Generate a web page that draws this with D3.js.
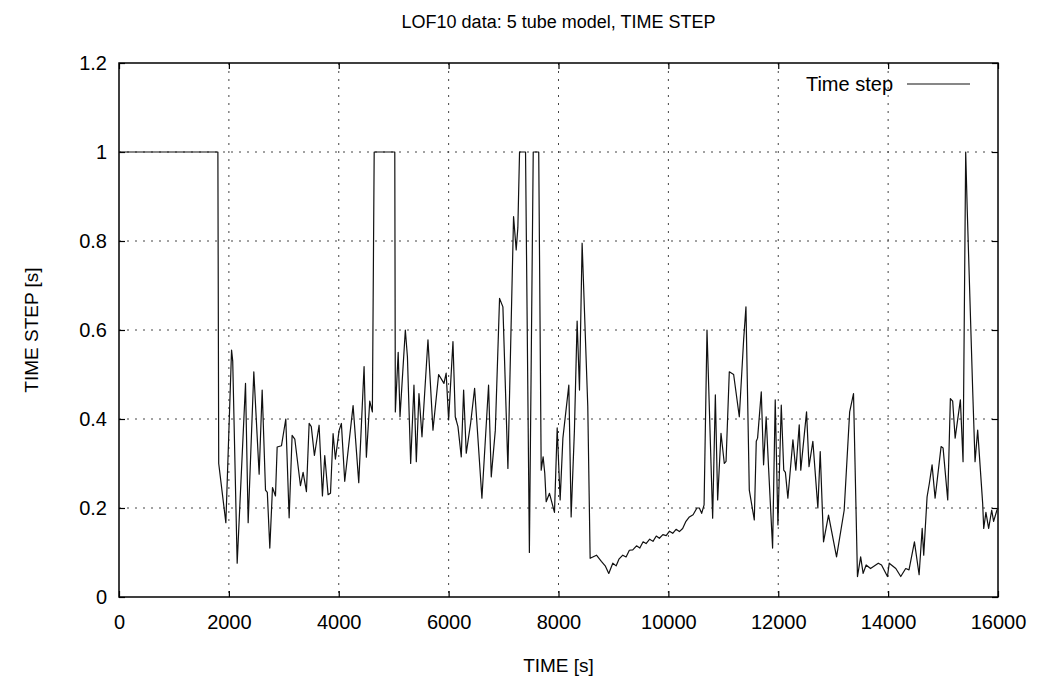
<!DOCTYPE html>
<html>
<head>
<meta charset="utf-8">
<script src="https://cdn.jsdelivr.net/npm/d3@7"></script>
<style>
  body { margin: 0; background: #fff; }
  svg { display: block; font-family: "Liberation Sans", Arial, sans-serif; }
  .axis text { font-size: 20px; fill: #000; }
  .axis line { stroke: #000; stroke-width: 1.2; }
  .axis path { display: none; }
  .grid line { stroke: #444; stroke-width: 1; stroke-dasharray: 2,6; }
</style>
</head>
<body>
<svg id="chart"></svg>
<script>
'use strict';

// time [s]
var times = [
  0, 1800, 1815, 1945, 2049, 2070, 2151, 2303, 2351, 2454, 2551, 2606, 2667, 2700,
  2745, 2794, 2848, 2879, 2958, 3036, 3097, 3151, 3200, 3303, 3351, 3412, 3461, 3500,
  3557, 3642, 3703, 3745, 3806, 3850, 3897, 3939, 4006, 4048, 4109, 4261, 4364, 4461,
  4503, 4564, 4612, 4645, 5020, 5030, 5082, 5115, 5212, 5250, 5309, 5369, 5412, 5460,
  5515, 5624, 5715, 5818, 5915, 5955, 6000, 6079, 6121, 6170, 6230, 6273, 6321, 6400,
  6473, 6606, 6727, 6776, 6850, 6927, 6988, 7079, 7182, 7230, 7260, 7291, 7400, 7470,
  7540, 7640, 7685, 7720, 7750, 7776, 7836, 7927, 7976, 8030, 8080, 8188, 8230, 8290,
  8339, 8382, 8430, 8533, 8576, 8691, 8780, 8850, 8915, 8988, 9050, 9100, 9170, 9230,
  9290, 9352, 9420, 9480, 9540, 9594, 9660, 9720, 9780, 9836, 9900, 9960, 10020, 10079,
  10140, 10200, 10260, 10320, 10382, 10450, 10520, 10564, 10606, 10650, 10703, 10806, 10855, 10897,
  10958, 11018, 11050, 11109, 11188, 11291, 11370, 11412, 11473, 11564, 11600, 11624, 11691, 11733,
  11780, 11824, 11897, 11945, 11994, 12055, 12100, 12130, 12175, 12267, 12320, 12382, 12410, 12515,
  12560, 12630, 12721, 12764, 12824, 12915, 13061, 13200, 13300, 13370, 13442, 13500, 13545, 13600,
  13680, 13821, 13880, 13988, 14020, 14140, 14230, 14320, 14380, 14479, 14564, 14620, 14648, 14709,
  14750, 14800, 14855, 14964, 15000, 15085, 15133, 15175, 15220, 15315, 15364, 15412, 15440, 15539,
  15582, 15630, 15721, 15740, 15780, 15830, 15885, 15920, 15980, 16000
];

// time step [s]
var timeSteps = [
  1.0, 1.0, 0.30, 0.167, 0.555, 0.53, 0.076, 0.48, 0.167, 0.506, 0.276, 0.465, 0.24, 0.235,
  0.11, 0.246, 0.227, 0.337, 0.34, 0.40, 0.178, 0.363, 0.355, 0.25, 0.28, 0.237, 0.39, 0.383,
  0.318, 0.386, 0.227, 0.318, 0.23, 0.233, 0.367, 0.31, 0.374, 0.39, 0.26, 0.43, 0.257, 0.518,
  0.314, 0.44, 0.416, 1.0, 1.0, 0.416, 0.55, 0.405, 0.60, 0.54, 0.30, 0.476, 0.304, 0.457,
  0.36, 0.578, 0.375, 0.50, 0.48, 0.503, 0.398, 0.574, 0.405, 0.383, 0.315, 0.465, 0.323, 0.39,
  0.469, 0.222, 0.476, 0.27, 0.375, 0.671, 0.652, 0.289, 0.855, 0.78, 0.83, 1.0, 1.0, 0.10,
  1.0, 1.0, 0.285, 0.315, 0.278, 0.214, 0.233, 0.19, 0.38, 0.218, 0.357, 0.476, 0.18, 0.375,
  0.62, 0.465, 0.795, 0.428, 0.087, 0.094, 0.08, 0.07, 0.053, 0.076, 0.07, 0.085, 0.094, 0.09,
  0.105, 0.106, 0.115, 0.11, 0.124, 0.12, 0.13, 0.125, 0.137, 0.132, 0.14, 0.138, 0.148, 0.143,
  0.152, 0.147, 0.154, 0.17, 0.18, 0.185, 0.2, 0.2, 0.188, 0.207, 0.60, 0.177, 0.454, 0.218,
  0.368, 0.30, 0.305, 0.506, 0.50, 0.405, 0.578, 0.652, 0.24, 0.173, 0.35, 0.357, 0.461, 0.297,
  0.405, 0.29, 0.11, 0.443, 0.162, 0.431, 0.285, 0.28, 0.222, 0.353, 0.285, 0.387, 0.285, 0.416,
  0.293, 0.35, 0.20, 0.327, 0.124, 0.184, 0.09, 0.195, 0.416, 0.457, 0.046, 0.09, 0.053, 0.072,
  0.064, 0.076, 0.072, 0.046, 0.076, 0.064, 0.046, 0.064, 0.061, 0.124, 0.05, 0.154, 0.094, 0.225,
  0.255, 0.297, 0.222, 0.338, 0.335, 0.218, 0.446, 0.44, 0.357, 0.443, 0.304, 1.0, 0.87, 0.465,
  0.304, 0.375, 0.21, 0.154, 0.19, 0.154, 0.195, 0.17, 0.195, 0.2
];

var xTicks = [0, 2000, 4000, 6000, 8000, 10000, 12000, 14000, 16000];
var yTicks = [0, 0.2, 0.4, 0.6, 0.8, 1, 1.2];

var TITLE = 'LOF10 data: 5 tube model, TIME STEP',
  X_LABEL = 'TIME [s]',
  Y_LABEL = 'TIME STEP [s]',
  LEGEND_LABEL = 'Time step';

var WIDTH = 1040,
  HEIGHT = 684,
  PLOT = { left: 119, right: 998, top: 63, bottom: 597 };

var data = times.map(function(t, i) {
  return { t: t, v: timeSteps[i] };
});

var svg = d3.select('#chart')
  .attr('width', WIDTH)
  .attr('height', HEIGHT);

var xScale = d3.scaleLinear()
  .domain([0, 16000])
  .range([PLOT.left, PLOT.right]);

var yScale = d3.scaleLinear()
  .domain([0, 1.2])
  .range([PLOT.bottom, PLOT.top]);

// grid
var grid = svg.append('g').attr('class', 'grid');

grid.selectAll('.gx')
  .data(xTicks.slice(1, -1))
  .enter().append('line')
  .attr('x1', function(d) { return xScale(d); })
  .attr('x2', function(d) { return xScale(d); })
  .attr('y1', PLOT.top)
  .attr('y2', PLOT.bottom);

grid.selectAll('.gy')
  .data(yTicks.slice(1, -1))
  .enter().append('line')
  .attr('x1', PLOT.left)
  .attr('x2', PLOT.right)
  .attr('y1', function(d) { return yScale(d); })
  .attr('y2', function(d) { return yScale(d); });

// axes, ticks pointing inward on all four sides
svg.append('g')
  .attr('class', 'axis')
  .attr('transform', 'translate(0,' + PLOT.bottom + ')')
  .call(d3.axisBottom(xScale).tickValues(xTicks).tickSize(-6).tickPadding(18).tickFormat(d3.format('d')));

svg.append('g')
  .attr('class', 'axis')
  .attr('transform', 'translate(0,' + PLOT.top + ')')
  .call(d3.axisTop(xScale).tickValues(xTicks).tickSize(-6).tickFormat(''));

svg.append('g')
  .attr('class', 'axis')
  .attr('transform', 'translate(' + PLOT.left + ',0)')
  .call(d3.axisLeft(yScale).tickValues(yTicks).tickSize(-6).tickPadding(12).tickFormat(function(d) { return String(d); }));

svg.append('g')
  .attr('class', 'axis')
  .attr('transform', 'translate(' + PLOT.right + ',0)')
  .call(d3.axisRight(yScale).tickValues(yTicks).tickSize(-6).tickFormat(''));

// frame
svg.append('rect')
  .attr('x', PLOT.left)
  .attr('y', PLOT.top)
  .attr('width', PLOT.right - PLOT.left)
  .attr('height', PLOT.bottom - PLOT.top)
  .attr('fill', 'none')
  .attr('stroke', '#000')
  .attr('stroke-width', 1.5);

// series
var line = d3.line()
  .x(function(d) { return xScale(d.t); })
  .y(function(d) { return yScale(d.v); });

svg.append('path')
  .datum(data)
  .attr('d', line)
  .attr('fill', 'none')
  .attr('stroke', '#111')
  .attr('stroke-width', 1.2)
  .attr('stroke-linejoin', 'round');

// legend
svg.append('text')
  .attr('x', 893)
  .attr('y', 91)
  .attr('text-anchor', 'end')
  .style('font-size', '20px')
  .text(LEGEND_LABEL);

svg.append('line')
  .attr('x1', 907)
  .attr('x2', 970)
  .attr('y1', 84)
  .attr('y2', 84)
  .attr('stroke', '#111')
  .attr('stroke-width', 1.2);

// titles
svg.append('text')
  .attr('x', (PLOT.left + PLOT.right) / 2)
  .attr('y', 28)
  .attr('text-anchor', 'middle')
  .style('font-size', '18px')
  .text(TITLE);

svg.append('text')
  .attr('x', (PLOT.left + PLOT.right) / 2)
  .attr('y', 672)
  .attr('text-anchor', 'middle')
  .style('font-size', '19px')
  .text(X_LABEL);

svg.append('text')
  .attr('transform', 'translate(38,' + (PLOT.top + PLOT.bottom) / 2 + ') rotate(-90)')
  .attr('text-anchor', 'middle')
  .style('font-size', '19px')
  .text(Y_LABEL);
</script>
</body>
</html>
